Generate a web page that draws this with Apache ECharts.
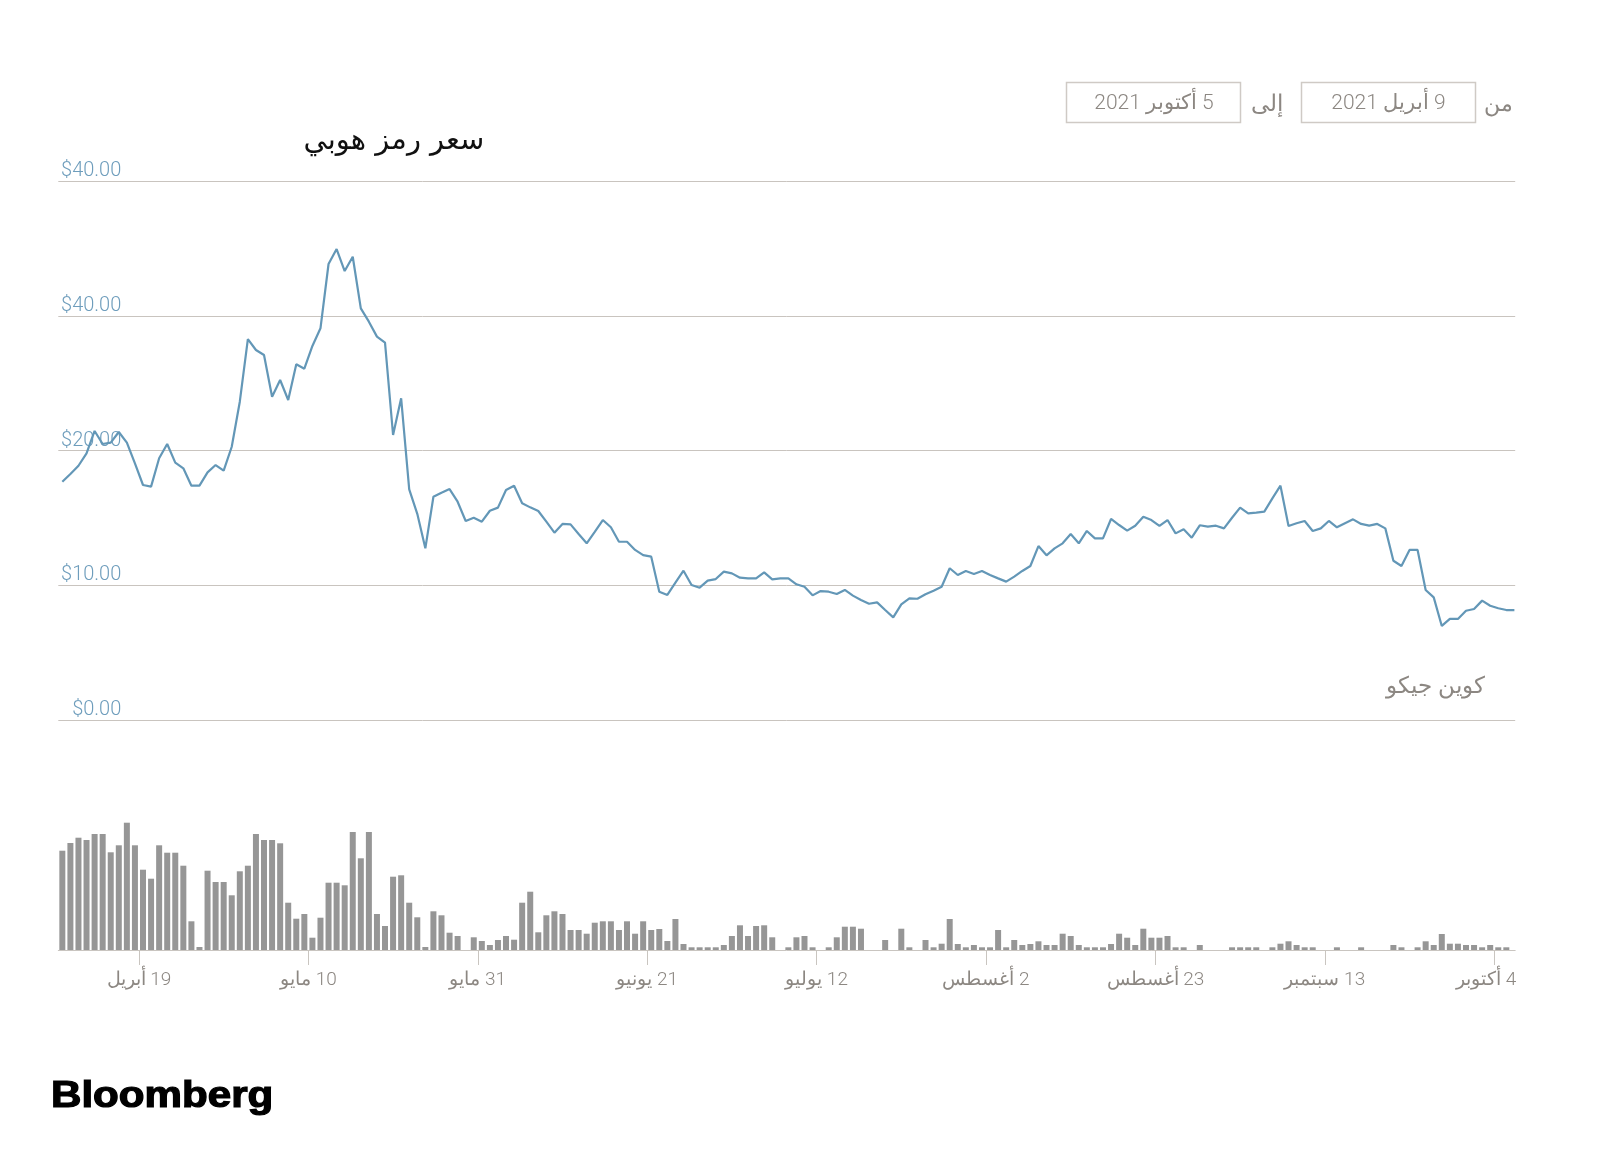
<!DOCTYPE html>
<html lang="ar">
<head>
<meta charset="utf-8">
<script src="https://cdn.jsdelivr.net/npm/echarts@6/dist/echarts.min.js"></script>
<style>
html,body{margin:0;padding:0;background:#ffffff;}
#main{width:1600px;height:1174px;}
</style>
</head>
<body>
<div id="main" dir="rtl"></div>
<script>
// ---------- data ----------
const titleText = 'سعر رمز هوبي';
const fromLabel = 'من';
const toLabel = 'إلى';
const fromDateText = '9 أبريل 2021';
const toDateText = '5 أكتوبر 2021';
const sourceText = 'كوين جيكو';
const brandText = 'Bloomberg';

// daily closing price (USD), 9 Apr 2021 .. 6 Oct 2021
const prices = [
  17.68, 18.26, 18.87, 19.79, 21.45, 20.48, 20.58, 21.37, 20.58, 19.05,
  17.44, 17.32, 19.42, 20.48, 19.10, 18.68, 17.39, 17.39, 18.38, 18.92,
  18.50, 20.28, 23.62, 28.27, 27.46, 27.09, 23.99, 25.23, 23.75, 26.40,
  26.07, 27.76, 29.07, 33.84, 34.95, 33.32, 34.38, 30.55, 29.56, 28.45,
  28.00, 21.15, 23.87, 17.12, 15.30, 12.74, 16.57, 16.87, 17.14, 16.20,
  14.77, 15.01, 14.72, 15.53, 15.76, 17.07, 17.39, 16.08, 15.78, 15.51,
  14.72, 13.90, 14.55, 14.52, 13.80, 13.11, 13.97, 14.84, 14.30, 13.23,
  13.23, 12.62, 12.24, 12.12, 9.52, 9.28, 10.19, 11.08, 10.02, 9.82,
  10.34, 10.46, 11.01, 10.88, 10.56, 10.51, 10.51, 10.96, 10.44, 10.51,
  10.51, 10.07, 9.89, 9.25, 9.57, 9.52, 9.35, 9.65, 9.23, 8.91,
  8.63, 8.73, 8.16, 7.62, 8.58, 9.03, 9.00, 9.33, 9.60, 9.89,
  11.26, 10.76, 11.06, 10.84, 11.06, 10.76, 10.51, 10.27, 10.64, 11.06,
  11.43, 12.91, 12.22, 12.74, 13.11, 13.80, 13.11, 14.03, 13.48, 13.48,
  14.92, 14.47, 14.05, 14.42, 15.09, 14.84, 14.40, 14.84, 13.85, 14.15,
  13.53, 14.45, 14.35, 14.42, 14.22, 15.01, 15.76, 15.34, 15.39, 15.46,
  16.45, 17.39, 14.40, 14.60, 14.77, 14.03, 14.22, 14.77, 14.30, 14.60,
  14.89, 14.55, 14.42, 14.55, 14.22, 11.82, 11.43, 12.62, 12.62, 9.65,
  9.10, 6.98, 7.50, 7.50, 8.11, 8.24, 8.86, 8.48, 8.29, 8.16,
  8.16
];

// daily trading volume (relative units), 9 Apr 2021 .. 5 Oct 2021
const volumes = [
  99.3, 107, 112.3, 110, 116, 116, 97.7, 104.7, 127.3, 104.7,
  80.3, 71.3, 104.7, 97.3, 97.3, 84.3, 28.7, 3, 79.3, 68,
  68, 54.7, 78.7, 84.3, 116, 110, 110, 106.7, 47.3, 31.3,
  36, 12.3, 32.3, 67.3, 67.3, 64.7, 118, 91.7, 118, 36,
  24, 73.3, 74.7, 47.3, 32.7, 3, 38.7, 34.7, 17.3, 14,
  0, 12.7, 9, 5, 10, 14, 10.3, 47.3, 58.3, 17.7,
  34.7, 38.7, 36, 20, 20, 16.3, 27.3, 28.7, 28.7, 20,
  28.7, 16.3, 28.7, 20, 21, 9, 31, 6, 2.7, 2.7,
  2.7, 2.7, 5, 14, 24.7, 14, 24, 24.7, 12.7, 0,
  2.7, 12.7, 14, 2.7, 0, 2.7, 12.7, 23.3, 23.3, 21.3,
  0, 0, 10, 0, 21.3, 2.7, 0, 10, 2.7, 6.3,
  31, 6, 2.7, 5, 2.7, 2.7, 20, 2.7, 10, 5,
  6, 8.7, 5, 5, 16.3, 14, 5, 2.7, 2.7, 2.7,
  6, 16.3, 12.3, 5, 21.3, 12.3, 12.3, 14, 2.7, 2.7,
  0, 5, 0, 0, 0, 2.7, 2.7, 2.7, 2.7, 0,
  2.7, 6.3, 8.7, 5, 2.7, 2.7, 0, 0, 2.7, 0,
  0, 2.7, 0, 0, 0, 5, 2.7, 0, 2.7, 8.7,
  5, 16, 6.3, 6.3, 5, 5, 2.7, 5, 2.7, 2.7
];

const yTickLabels = ['$0.00', '$10.00', '$20.00', '$40.00', '$40.00'];
const xTickDates = ['2021-04-19', '2021-05-10', '2021-05-31', '2021-06-21', '2021-07-12',
                    '2021-08-02', '2021-08-23', '2021-09-13', '2021-10-04'];
const xTickLabels = ['19 أبريل', '10 مايو', '31 مايو', '21 يونيو', '12 يوليو',
                     '2 أغسطس', '23 أغسطس', '13 سبتمبر', '4 أكتوبر'];

// ---------- helpers ----------
function localTime(str, hour, minute) {
  const p = str.split('-').map(Number);
  return new Date(p[0], p[1] - 1, p[2], hour || 0, minute || 0).getTime();
}
const firstDay = localTime('2021-04-09');
function dayTime(i) { // noon of the i-th day of the series
  const d = new Date(firstDay);
  d.setDate(d.getDate() + i);
  d.setHours(12);
  return d.getTime();
}
const axisMin = firstDay;
const axisMax = localTime('2021-10-06', 14, 24);
const tickTimes = xTickDates.map(s => localTime(s));

const priceData = prices.map((v, i) => [dayTime(i), v]);
const volumeData = volumes.map((v, i) => [dayTime(i), v]);

const ARABIC_FONT = "Roboto, 'DejaVu Sans', sans-serif";
const GRID_LEFT = 58.3, GRID_RIGHT = 84.8;

function tickLabelFor(val) {
  let best = 0, bd = Infinity;
  tickTimes.forEach((t, k) => { const dd = Math.abs(t - val); if (dd < bd) { bd = dd; best = k; } });
  return best;
}

const chart = echarts.init(document.getElementById('main'), null, {renderer: 'canvas'});

const option = {
  animation: false,
  backgroundColor: '#ffffff',
  grid: [
    {left: GRID_LEFT, right: GRID_RIGHT, top: 181, height: 539, containLabel: false},
    {left: GRID_LEFT, right: GRID_RIGHT, top: 820, height: 130, containLabel: false}
  ],
  xAxis: [
    {type: 'value', gridIndex: 0, min: axisMin, max: axisMax, show: false, splitLine: {show: false}},
    {
      type: 'value', gridIndex: 1, min: axisMin, max: axisMax,
      axisLine: {show: true, onZero: false, lineStyle: {color: '#c9c5c0', width: 1}},
      axisTick: {show: true, customValues: tickTimes, length: 15, lineStyle: {color: '#c9c5c0', width: 1}},
      splitLine: {show: false},
      axisLabel: {
        show: true,
        customValues: tickTimes,
        margin: 21,
        color: '#8c8782',
        fontSize: 19,
        fontWeight: 300,
        fontFamily: ARABIC_FONT,
        formatter: function (val) {
          const idx = tickLabelFor(val);
          const txt = xTickLabels[idx];
          if (idx === xTickLabels.length - 1) return '{e|' + txt + '}';
          return txt;
        },
        rich: {
          e: {padding: [0, 16, 0, 0], color: '#8c8782', fontSize: 19, fontWeight: 300, fontFamily: ARABIC_FONT}
        }
      }
    }
  ],
  yAxis: [
    {
      type: 'value', gridIndex: 0, min: 0, max: 40, interval: 10,
      axisLine: {show: false}, axisTick: {show: false},
      splitLine: {show: true, lineStyle: {color: '#c9c4bf', width: 1}},
      axisLabel: {
        show: true,
        margin: -63,
        align: 'right',
        verticalAlign: 'bottom',
        lineHeight: 20,
        color: '#6e9dbc',
        fontSize: 20,
        fontWeight: 300,
        fontFamily: 'Roboto, sans-serif',
        formatter: function (v) { return yTickLabels[Math.round(v / 10)]; }
      }
    },
    {type: 'value', gridIndex: 1, min: 0, max: 130, show: false, splitLine: {show: false}}
  ],
  series: [
    {
      name: 'price', type: 'line', xAxisIndex: 0, yAxisIndex: 0,
      data: priceData, showSymbol: false, symbol: 'none',
      lineStyle: {color: '#6397b7', width: 2.2}, z: 3
    },
    {
      name: 'volume', type: 'bar', xAxisIndex: 1, yAxisIndex: 1,
      data: volumeData, barWidth: 6,
      itemStyle: {color: '#969696'}
    }
  ],
  graphic: [
    {type: 'text', x: 394, y: 141, style: {text: titleText, align: 'center', verticalAlign: 'middle',
      font: "normal 29px 'DejaVu Sans', sans-serif", fill: '#111111'}},
    {type: 'text', x: 1513, y: 105, style: {text: fromLabel, align: 'right', verticalAlign: 'middle',
      font: "300 22px " + ARABIC_FONT, fill: '#8c8782'}},
    {type: 'rect', shape: {x: 1301.5, y: 82.5, width: 174, height: 40},
      style: {fill: 'none', stroke: '#cfcac5', lineWidth: 1.5}},
    {type: 'text', x: 1388.5, y: 104, style: {text: fromDateText, align: 'center', verticalAlign: 'middle',
      font: "300 21px " + ARABIC_FONT, fill: '#8c8782'}},
    {type: 'text', x: 1266.5, y: 105, style: {text: toLabel, align: 'center', verticalAlign: 'middle',
      font: "300 23px " + ARABIC_FONT, fill: '#8c8782'}},
    {type: 'rect', shape: {x: 1066.5, y: 82.5, width: 174, height: 40},
      style: {fill: 'none', stroke: '#cfcac5', lineWidth: 1.5}},
    {type: 'text', x: 1154, y: 104, style: {text: toDateText, align: 'center', verticalAlign: 'middle',
      font: "300 21px " + ARABIC_FONT, fill: '#8c8782'}},
    {type: 'text', x: 1485, y: 687, style: {text: sourceText, align: 'right', verticalAlign: 'middle',
      font: "300 23px " + ARABIC_FONT, fill: '#8c8782'}},
    {type: 'text', x: 51, y: 1097, scaleX: 1.17, style: {text: brandText, align: 'left', verticalAlign: 'middle',
      font: "bold 36px 'Liberation Sans', Arial, sans-serif", fill: '#000000', stroke: '#000000', lineWidth: 1.2}}
  ]
};
chart.setOption(option);
</script>
</body>
</html>
